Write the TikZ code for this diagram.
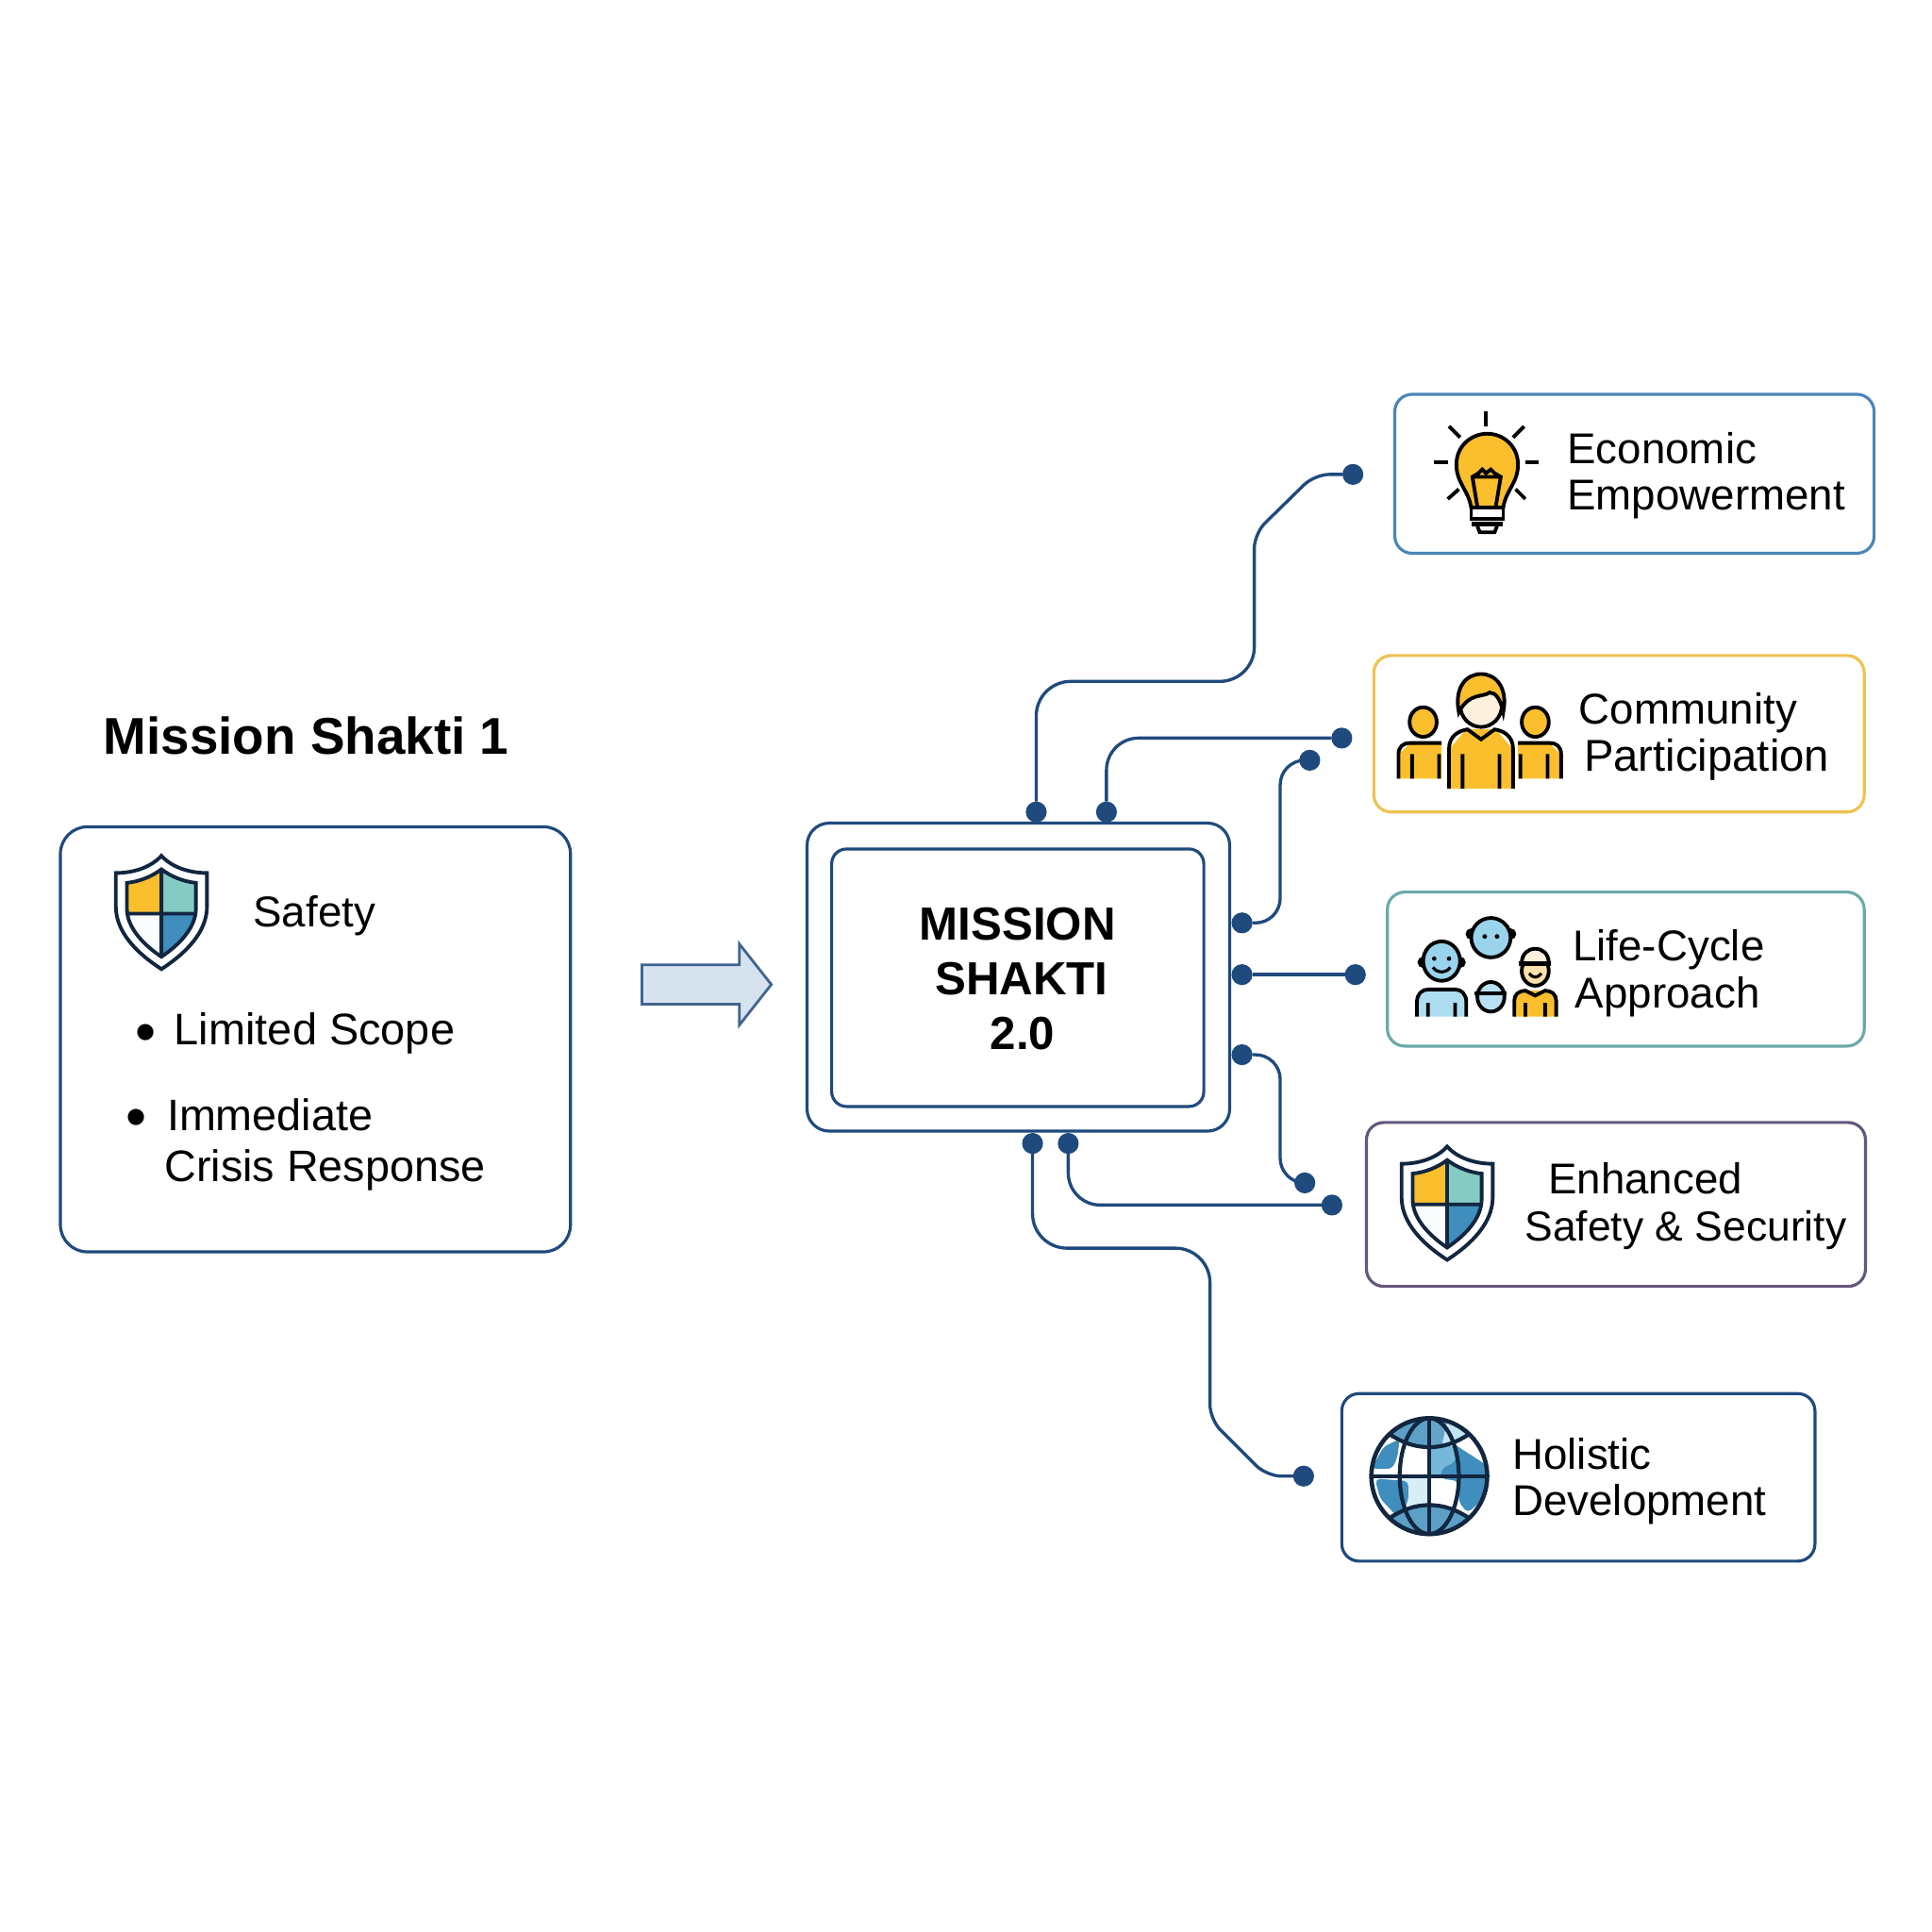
\documentclass[tikz,border=0pt]{standalone}
\usepackage{fontspec}
\setmainfont{Liberation Sans}
\usetikzlibrary{positioning}
\newlength\un
\setlength\un{0.37163pt}
\definecolor{navy}{HTML}{1F4A7D}
\definecolor{ink}{HTML}{12263F}
\definecolor{sun}{HTML}{FBBF2E}
\definecolor{mint}{HTML}{85CBC4}
\definecolor{sea}{HTML}{3F8EBD}
\definecolor{sky}{HTML}{9AD4EC}
\definecolor{cream}{HTML}{FDF0DC}
\definecolor{ecoline}{HTML}{4A86B8}
\definecolor{comline}{HTML}{EEC24F}
\definecolor{lifline}{HTML}{6AA9A8}
\definecolor{enhline}{HTML}{64577F}
\definecolor{arrowfill}{HTML}{D6E3EF}
\tikzset{
	bx/.style={draw,rounded corners=14\un,inner sep=0,outer sep=0,line width=0.9pt},
	dot/.style={circle,fill=navy,inner sep=0,outer sep=0,minimum size=17\un},
	wire/.style={draw=navy,line width=0.95pt},
	lbl/.style={anchor=west,inner sep=0,align=left,font=\fontsize{13}{14.1}\selectfont},
	bul/.style={lbl,font=\fontsize{18}{18}\selectfont},
	ic/.style={draw=black,line width=1.1pt},
	shieldicon/.pic={
		\path[draw=ink,line width=1.1pt,fill=white] (0,-46) .. controls (-8,-37) and (-22,-32) .. (-37,-32) -- (-37,-5) .. controls (-37,16) and (-20,33) .. (0,46) .. controls (20,33) and (37,16) .. (37,-5) -- (37,-32) .. controls (22,-32) and (8,-37) .. (0,-46) -- cycle;
		\begin{scope}
			\clip (0,-35) .. controls (-8,-29) and (-18,-25) .. (-28,-24) -- (-28,-3) .. controls (-28,12) and (-15,26) .. (0,36) .. controls (15,26) and (28,12) .. (28,-3) -- (28,-24) .. controls (18,-25) and (8,-29) .. (0,-35) -- cycle;
			\fill[sun] (-30,-36) rectangle (0,1);
			\fill[mint] (0,-36) rectangle (30,1);
			\fill[white!95!sky] (-30,1) rectangle (0,37);
			\fill[sea] (0,1) rectangle (30,37);
		\end{scope}
		\path[draw=ink,line width=1.1pt] (0,-35) .. controls (-8,-29) and (-18,-25) .. (-28,-24) -- (-28,-3) .. controls (-28,12) and (-15,26) .. (0,36) .. controls (15,26) and (28,12) .. (28,-3) -- (28,-24) .. controls (18,-25) and (8,-29) .. (0,-35) -- cycle (0,-35) -- (0,36) (-28,1) -- (28,1);
	}
}
\begin{document}
\begin{tikzpicture}[x=\un,y=-\un]
\useasboundingbox (0,0) rectangle (1568,1568);

\node[anchor=west,inner sep=0,font=\fontsize{15.6}{18}\selectfont\bfseries] (title) at (83.5,597) {Mission Shakti 1};
\node[bx,draw=navy,rounded corners=22\un,minimum width=414\un,minimum height=345\un] (oldbox) at (256,843.5) {};
\pic at (131,740.5) {shieldicon};
\node[lbl] (safety) at (205,743) {Safety};
\node[bul] (b1) at (109.5,843) {\textbullet};
\node[lbl,font=\fontsize{13.35}{14.1}\selectfont] (scope) at (141,839) {Limited Scope};
\node[bul] (b2) at (101.5,912) {\textbullet};
\node[lbl,font=\fontsize{13.3}{15.4}\selectfont] (crisis) at (133,929) {\hspace*{2\un}Immediate\\Crisis Response};

\draw[draw=navy!85,fill=arrowfill,line width=0.8pt] (521,783) -- (600,783) -- (600,766) -- (626,799) -- (600,832) -- (600,815) -- (521,815) -- cycle;

\node[bx,draw=navy,rounded corners=18\un,minimum width=343\un,minimum height=250\un] (outer) at (826.5,793) {};
\node[bx,draw=navy,rounded corners=12\un,minimum width=302\un,minimum height=209\un] (inner) at (826,793.5) {};
\node[inner sep=0,align=center,font=\fontsize{14}{16.5}\selectfont\bfseries] (maintxt) at (826,794.5) {MISSION\\ \hspace*{6\un}SHAKTI\\ \hspace*{8\un}2.0};

\node[bx,draw=ecoline,minimum width=389\un,minimum height=129\un] (eco) at (1326.5,384.5) {};
\node[bx,draw=comline,minimum width=398\un,minimum height=127\un] (com) at (1314,595.5) {};
\node[bx,draw=lifline,minimum width=387\un,minimum height=125\un] (lif) at (1319.5,786.5) {};
\node[bx,draw=enhline,minimum width=405\un,minimum height=133\un] (enh) at (1311.5,977.5) {};
\node[bx,draw=navy,minimum width=384\un,minimum height=136\un] (hol) at (1281,1199) {};

\node[lbl] (ecotxt) at (1271.5,386) {Economic\\Empowerment};
\node[lbl] (comtxt) at (1281,598) {Community\\\hspace*{4\un}{\fontsize{13.45}{14.1}\selectfont Participation}};
\node[lbl] (liftxt) at (1276,790) {Life-Cycle\\\hspace*{2\un}Approach};
\node[lbl] (enhtxt) at (1237,979) {\hspace*{19\un}Enhanced\\{\fontsize{12.65}{14.1}\selectfont Safety \& Security}};
\node[lbl] (holtxt) at (1227,1202) {Holistic\\Development};

\node[dot] (t1) at (841,659) {};
\node[dot] (t2) at (898,659) {};
\node[dot] (r1) at (1008,749) {};
\node[dot] (r2) at (1008,791) {};
\node[dot] (r3) at (1008,856) {};
\node[dot] (d1) at (838,928) {};
\node[dot] (d2) at (867,928) {};
\node[dot] (ecodot) at (1098,385) {};
\node[dot] (comdot) at (1089,599) {};
\node[dot] (comdot2) at (1063,617) {};
\node[dot] (lifdot) at (1100,791) {};
\node[dot] (enhdot2) at (1059,960) {};
\node[dot] (enhdot) at (1081,978) {};
\node[dot] (holdot) at (1058,1198) {};

\draw[wire,rounded corners=28\un] (t1) -- (841,553) -- (1018,553) [rounded corners=12\un] -- (1018,433) -- (1067,385) -- (ecodot);
\draw[wire,rounded corners=26\un] (t2) |- (comdot);
\draw[wire,rounded corners=20\un] (r1) -- (1039,749) -- (1039,617) -- (comdot2);
\path[wire] (r2) -- (lifdot);
\draw[wire,rounded corners=20\un] (r3) -- (1039,856) -- (1039,960) -- (enhdot2);
\draw[wire,rounded corners=26\un] (d2) |- (enhdot);
\draw[wire,rounded corners=28\un] (d1) -- (838,1013) -- (982,1013) [rounded corners=12\un] -- (982,1152) -- (1028,1198) -- (holdot);

\pic at (1174.5,976.5) {shieldicon};

% bulb
\foreach \a/\b/\c/\d in {1206/334/1206/346,1164/375/1175/375,1238/375/1249/375,1176/346/1185/355,1237/346/1228/355,1175/405/1184/397,1238/405/1230/397}
	\draw[black,line width=1.1pt] (\a,\b) -- (\c,\d);
\draw[ic,fill=sun] (1194,412) .. controls (1192,398) and (1182,392) .. (1182,377) .. controls (1182,362) and (1194,352) .. (1207,352) .. controls (1220,352) and (1232,362) .. (1232,377) .. controls (1232,392) and (1222,398) .. (1220,412) -- cycle;
\draw[ic] (1199,411) -- (1195,387) -- (1200,384) -- (1203,381) -- (1206,384) -- (1210,381) -- (1213,384) -- (1218,387) -- (1214,411) (1195,387) -- (1218,387);
\draw[ic,fill=white] (1194,412) rectangle (1220,421);
\draw[black,line width=1.4pt] (1194,425) -- (1220,425);
\draw[ic] (1199,427) -- (1201,432) -- (1213,432) -- (1215,427);

% people
\fill[sun] (1135,632) -- (1135,612) -- (1144,604) -- (1170,604) -- (1170,632) -- cycle;
\fill[sun] (1267,632) -- (1267,612) -- (1258,604) -- (1232,604) -- (1232,632) -- cycle;
\draw[ic] (1135,632) -- (1135,612) .. controls (1135,606) and (1139,603) .. (1144,603) -- (1170,603) (1146,612) -- (1146,632) (1168,612) -- (1168,632);
\draw[ic] (1267,632) -- (1267,612) .. controls (1267,606) and (1263,603) .. (1258,603) -- (1232,603) (1256,612) -- (1256,632) (1234,612) -- (1234,632);
\draw[ic,fill=sun] (1155,586) ellipse (11 and 12);
\draw[ic,fill=sun] (1246,586) ellipse (11 and 12);
\fill[sun] (1176,640) -- (1176,608) -- (1190,592) -- (1214,592) -- (1228,608) -- (1228,640) -- cycle;
\draw[ic] (1176,640) -- (1176,608) .. controls (1176,597) and (1184,593) .. (1191,592) -- (1202,600) -- (1213,592) .. controls (1220,593) and (1228,597) .. (1228,608) -- (1228,640) (1187,612) -- (1187,640) (1217,612) -- (1217,640);
\draw[ic,fill=cream] (1202,572) ellipse (17 and 18);
\draw[ic,fill=sun] (1184,578) .. controls (1180,558) and (1190,547) .. (1202,547) .. controls (1214,547) and (1224,558) .. (1220,578) .. controls (1218,568) and (1214,562) .. (1209,562) .. controls (1204,566) and (1192,562) .. (1184,578) -- cycle;

% life cycle
\draw[ic,fill=sky] (1155,781) circle (3);
\draw[ic,fill=sky] (1185,781) circle (3);
\draw[ic,fill=sky] (1170,780) ellipse (15 and 16);
\fill (1164,778) circle (1.8) (1176,778) circle (1.8);
\draw[black,line width=0.9pt] (1163,785) .. controls (1166,790) and (1174,790) .. (1177,785);
\fill[sky!80!white] (1150,825) -- (1150,812) -- (1158,803) -- (1182,803) -- (1190,812) -- (1190,825) -- cycle;
\draw[ic] (1150,825) -- (1150,813) .. controls (1150,807) and (1154,803) .. (1159,803) -- (1181,803) .. controls (1186,803) and (1190,807) .. (1190,813) -- (1190,825) (1159,814) -- (1159,825) (1181,814) -- (1181,825);
\draw[ic,fill=sky] (1194,758) circle (3);
\draw[ic,fill=sky] (1226,758) circle (3);
\draw[ic,fill=sky] (1210,761) ellipse (16 and 16);
\fill (1205,760) circle (1.9) (1215,760) circle (1.9);
\draw[ic,fill=sky!70!white] (1210,809) ellipse (11 and 12);
\draw[black,line width=1pt] (1197,806) -- (1223,806);
\draw[ic,fill=cream!70!sun] (1246,788) ellipse (11 and 12);
\draw[ic,fill=cream] (1235,782) .. controls (1235,774) and (1240,770) .. (1246,770) .. controls (1252,770) and (1257,774) .. (1257,782) -- cycle;
\draw[black,line width=1.5pt] (1233,782) -- (1259,782);
\draw[black,line width=0.9pt] (1241,790) .. controls (1244,794) and (1248,794) .. (1251,790);
\fill[sun] (1229,825) -- (1229,811) -- (1237,804) -- (1255,804) -- (1263,811) -- (1263,825) -- cycle;
\draw[ic] (1229,825) -- (1229,812) .. controls (1229,807) and (1233,804) .. (1238,804) -- (1246,808) -- (1254,804) .. controls (1259,804) and (1263,807) .. (1263,812) -- (1263,825) (1238,814) -- (1238,825) (1254,814) -- (1254,825);

% globe
\begin{scope}[shift={(1160,1198)}]
	\begin{scope}
		\clip (0,0) circle (47);
		\fill[white] (-47,-47) rectangle (47,47);
		\fill[sky!60!sea] (0,-24) rectangle (24,0);
		\fill[sky!40!white] (-24,2) rectangle (0,24);
		\fill[sea!85!white] (-47,-47) -- (0,-47) -- (0,-24) -- (-31,-31) -- cycle;
		\fill[sky!60!white] (15,-47) -- (47,-47) -- (31,-31) -- (10,-24) -- cycle;
		\fill[sea!80!white] (0,-47) -- (15,-47) -- (10,-24) -- (0,-24) -- cycle;
		\fill[sea,rounded corners=4\un] (20,-26) -- (48,-8) -- (48,8) -- (40,22) -- (31,30) -- (24,21) -- (24,4) -- (9,2) -- (10,-6) -- (22,-12) -- cycle;
		\fill[sea,rounded corners=4\un] (-37,-24) -- (-24,-30) -- (-26,-15) -- (-30,-6) -- (-47,-6) -- cycle;
		\fill[sea,rounded corners=4\un] (-44,2) -- (-17,4) -- (-17,20) -- (-25,34) -- (-40,18) -- cycle;
		\fill[sea!85!white] (-32,32) .. controls (-12,20) and (12,20) .. (32,32) -- (20,47) -- (-20,47) -- cycle;
	\end{scope}
	\draw[ink,line width=1.3pt] (0,0) circle (47);
	\draw[ink,line width=1.2pt] (0,0) ellipse (24 and 47);
	\draw[ink,line width=1.2pt] (0,-47) -- (0,47) (-47,0) -- (47,0);
	\draw[ink,line width=1.2pt] (-32,-34) .. controls (-12,-20) and (12,-20) .. (32,-34);
	\draw[ink,line width=1.2pt] (-32,34) .. controls (-12,20) and (12,20) .. (32,34);
\end{scope}

\end{tikzpicture}
\end{document}
